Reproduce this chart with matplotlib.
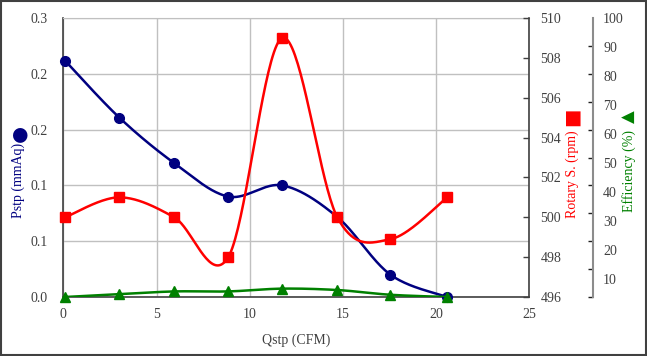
import numpy as np
import matplotlib
matplotlib.use('Agg')
import matplotlib.pyplot as plt
from matplotlib.patches import Rectangle

plt.rcParams['font.family'] = ['Liberation Serif', 'DejaVu Sans']
plt.rcParams['font.size'] = 10

# ---- data ----
qstp = [0.1, 3.0, 5.95, 8.85, 11.75, 14.7, 17.55, 20.6]
pstp = [0.254, 0.193, 0.144, 0.108, 0.120, 0.086, 0.024, 0.0]
rpm = [500, 501, 500, 498, 509, 500, 498.9, 501]
eff = [0, 1, 2, 2, 3, 2.5, 0.8, 0]

x_ticks = [0, 5, 10, 15, 20, 25]
p_ticks = [0, 0.06, 0.12, 0.18, 0.24, 0.30]
rpm_ticks = [496, 498, 500, 502, 504, 506, 508, 510]
eff_marks = [0, 10, 20, 30, 40, 50, 60, 70, 80, 90, 100]
eff_labels = [10, 20, 30, 40, 50, 60, 70, 80, 90, 100]

NAVY = '#000080'
RED = '#FF0000'
GREEN = '#008000'
TXT = '#404040'


def smooth(x, y, n=40):
    """Excel-style smoothed line (Bezier with 1/6 tension)."""
    P = np.column_stack([np.asarray(x, float), np.asarray(y, float)])
    m = len(P)
    out = [P[0]]
    t = np.linspace(0, 1, n)[1:, None]
    for i in range(m - 1):
        p0 = P[i - 1] if i > 0 else P[i]
        p1, p2 = P[i], P[i + 1]
        p3 = P[i + 2] if i + 2 < m else P[i + 1]
        c1 = p1 + (p2 - p0) / 6
        c2 = p2 - (p3 - p1) / 6
        seg = (1 - t) ** 3 * p1 + 3 * (1 - t) ** 2 * t * c1 + 3 * (1 - t) * t ** 2 * c2 + t ** 3 * p2
        out.extend(seg)
    out = np.array(out)
    return out[:, 0], out[:, 1]


fig = plt.figure(figsize=(6.47, 3.56), dpi=100)
ax = fig.add_axes([63.3 / 647, (356 - 297) / 356, (529.3 - 63.3) / 647, (297 - 18) / 356])

# left axis: Pstp
ax.set_xlim(0, 25)
ax.set_ylim(0, 0.3)
ax.set_xticks(x_ticks)
ax.set_xticklabels([str(v) for v in x_ticks])
ax.set_yticks(p_ticks)
ax.set_yticklabels(['%.1f' % v for v in p_ticks])
ax.tick_params(axis='both', length=0, colors=TXT, labelsize=10)
ax.tick_params(axis='y', pad=11)
ax.tick_params(axis='x', pad=8)
ax.grid(True, color='#C0C0C0', linewidth=1.0)
ax.set_axisbelow(True)
for s in ['left', 'bottom']:
    ax.spines[s].set_color('#404040')
    ax.spines[s].set_linewidth(1.2)
ax.spines['top'].set_color('#C0C0C0')
ax.spines['right'].set_visible(False)
ax.set_xlabel('Qstp (CFM)', color=TXT, fontsize=10, labelpad=9)

sx, sy = smooth(qstp, pstp)
ax.plot(sx, sy, color=NAVY, lw=1.8, zorder=3)
ax.plot(qstp, pstp, 'o', color=NAVY, ms=7, zorder=4, clip_on=False)

# rpm axis
ax2 = ax.twinx()
ax2.set_ylim(496, 510)
ax2.set_yticks(rpm_ticks)
ax2.set_yticklabels([str(v) for v in rpm_ticks])
ax2.tick_params(axis='y', direction='in', length=4, width=1, colors=TXT, pad=8, labelsize=10)
for s in ['left', 'top', 'bottom']:
    ax2.spines[s].set_visible(False)
ax2.spines['right'].set_color('#404040')
ax2.spines['right'].set_linewidth(1.2)
rx, ry = smooth(qstp, rpm)
ax2.plot(rx, ry, color=RED, lw=1.8, zorder=3)
ax2.plot(qstp, rpm, 's', color=RED, ms=7, zorder=4, clip_on=False)

# efficiency axis
ax3 = ax.twinx()
ax3.set_ylim(0, 100)
for s in ['left', 'top', 'bottom']:
    ax3.spines[s].set_visible(False)
ax3.spines['right'].set_position(('axes', (592.7 - 63.3) / (529.3 - 63.3)))
ax3.spines['right'].set_color('#8C8C8C')
ax3.spines['right'].set_linewidth(1.5)
ax3.set_yticks(eff_marks, minor=True)
ax3.tick_params(axis='y', which='minor', direction='in', length=3.5, width=1, colors='#202020')
# labels are spaced slightly wider than the tick marks in the reference
lab_pos = [100 - (100 - v) * 1.039 for v in eff_labels]
ax3.set_yticks(lab_pos)
ax3.set_yticklabels([str(v) for v in eff_labels])
ax3.tick_params(axis='y', which='major', length=0, colors=TXT, pad=7.5, labelsize=10)
ex, ey = smooth(qstp, eff)
ax3.plot(ex, ey, color=GREEN, lw=1.8, zorder=3)
ax3.plot(qstp, eff, '^', color=GREEN, ms=7, zorder=4, clip_on=False)

# axis titles with symbols
def px(x, y):
    return x / 647, 1 - y / 356

fig.text(*px(18, 180), 'Pstp (mmAq)', rotation=90, color=NAVY, ha='center', va='center', fontsize=10)
fig.text(*px(18.5, 133), '●', rotation=90, color=NAVY, ha='center', va='center', fontsize=14,
         family='DejaVu Sans')
fig.text(*px(572, 174), 'Rotary S. (rpm)', rotation=90, color=RED, ha='center', va='center', fontsize=10)
fig.text(*px(571, 116.5), '■', rotation=90, color=RED, ha='center', va='center', fontsize=14,
         family='DejaVu Sans')
fig.text(*px(629, 170.5), 'Efficiency (%)', rotation=90, color=GREEN, ha='center', va='center', fontsize=10)
fig.text(*px(629, 117), '▲', rotation=90, color=GREEN, ha='center', va='center', fontsize=12,
         family='DejaVu Sans')

# outer frame
fig.patches.append(Rectangle((0.001, 0.002), 0.997, 0.996, transform=fig.transFigure,
                             fill=False, edgecolor='#404040', linewidth=1.5))

fig.savefig('out.png', dpi=100)
